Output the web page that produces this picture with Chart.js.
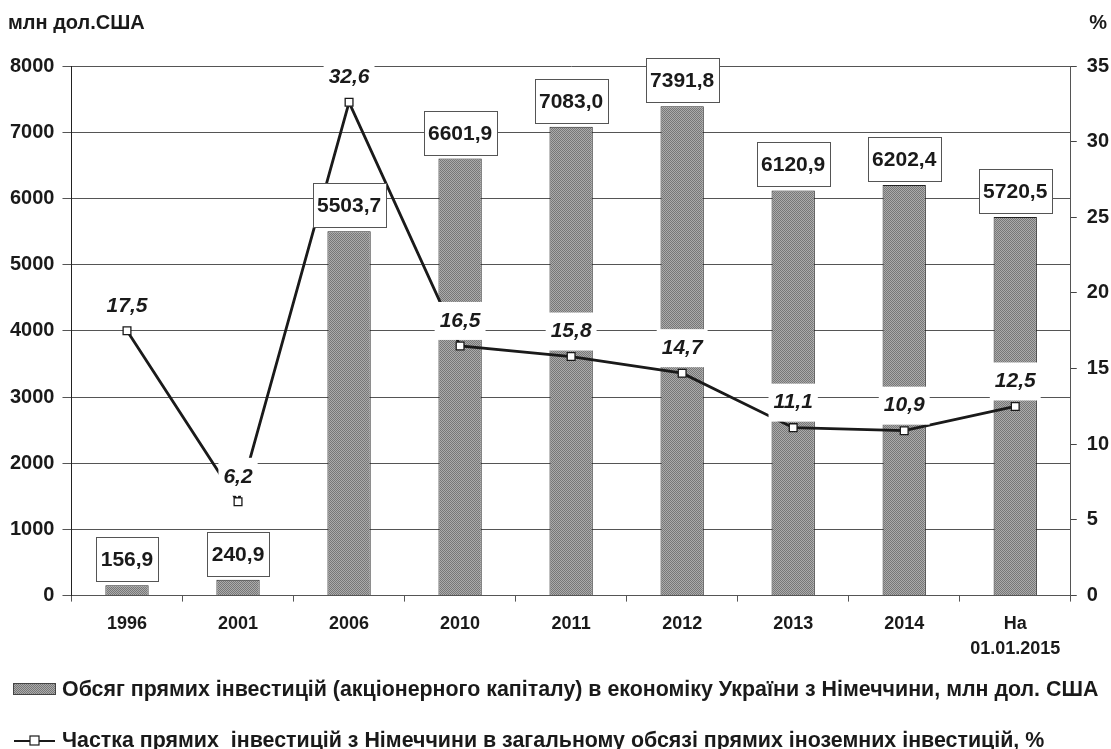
<!DOCTYPE html>
<html>
<head>
<meta charset="utf-8">
<script src="https://cdn.jsdelivr.net/npm/chart.js@4/dist/chart.umd.min.js"></script>
<style>
html, body { margin: 0; padding: 0; background: #fff; }
#wrap { width: 1111px; height: 749px; }
</style>
</head>
<body>
<div id="wrap"><canvas id="chart"></canvas></div>
<script>
var years = ['1996', '2001', '2006', '2010', '2011', '2012', '2013', '2014', ['На', '01.01.2015']];
var investVolume = [156.9, 240.9, 5503.7, 6601.9, 7083.0, 7391.8, 6120.9, 6202.4, 5720.5];
var investShare = [17.5, 6.2, 32.6, 16.5, 15.8, 14.7, 11.1, 10.9, 12.5];
var leftTicks = [0, 1000, 2000, 3000, 4000, 5000, 6000, 7000, 8000];
var rightTicks = [0, 5, 10, 15, 20, 25, 30, 35];
var leftTitle = 'млн дол.США';
var rightTitle = '%';
var barLabel = 'Обсяг прямих інвестицій (акціонерного капіталу) в економіку України з Німеччини, млн дол. США';
var lineLabel = 'Частка прямих  інвестицій з Німеччини в загальному обсязі прямих іноземних інвестицій, %';

var FONT = '"Liberation Sans", Arial, sans-serif';
var canvas = document.getElementById('chart');

// stippled grey fill like the original bars
function makePattern() {
    var c = document.createElement('canvas');
    c.width = 2; c.height = 2;
    var x = c.getContext('2d');
    x.fillStyle = '#ababab';
    x.fillRect(0, 0, 2, 2);
    x.fillStyle = '#777';
    x.fillRect(0, 0, 1, 1);
    x.fillRect(1, 1, 1, 1);
    return canvas.getContext('2d').createPattern(c, 'repeat');
}
var barFill = makePattern();

function fmt(v) {
    return v.toFixed(1).replace('.', ',');
}

var valueLabels = {
    id: 'valueLabels',
    afterDatasetsDraw: function(chart) {
        var ctx = chart.ctx;
        ctx.save();
        ctx.textAlign = 'center';
        ctx.textBaseline = 'middle';

        // line labels, white background
        ctx.font = 'italic bold 21px ' + FONT;
        chart.getDatasetMeta(1).data.forEach(function(pt, i) {
            var txt = fmt(investShare[i]);
            var w = ctx.measureText(txt).width + 10;
            var cy = pt.y - 26;
            ctx.fillStyle = '#fff';
            ctx.fillRect(pt.x - w / 2, cy - 18, w, 38);
            ctx.fillStyle = '#1a1a1a';
            ctx.fillText(txt, pt.x, cy + 1);
        });

        // bar labels, boxed
        ctx.font = 'bold 21px ' + FONT;
        chart.getDatasetMeta(0).data.forEach(function(bar, i) {
            var txt = fmt(investVolume[i]);
            var w = Math.round(ctx.measureText(txt).width + 9);
            var h = 44;
            var top = Math.round(bar.y - 4 - h);
            var left = Math.round(bar.x - w / 2);
            ctx.fillStyle = '#fff';
            ctx.fillRect(left, top, w, h);
            ctx.strokeStyle = '#555';
            ctx.lineWidth = 1;
            ctx.strokeRect(left + 0.5, top + 0.5, w, h);
            ctx.fillStyle = '#1a1a1a';
            ctx.fillText(txt, bar.x, top + h / 2 + 1);
        });
        ctx.restore();
    }
};

var extras = {
    id: 'extras',
    afterDraw: function(chart) {
        var ctx = chart.ctx;
        ctx.save();
        ctx.fillStyle = '#1a1a1a';
        ctx.font = 'bold 20px ' + FONT;
        ctx.textBaseline = 'middle';
        ctx.textAlign = 'left';
        ctx.fillText(leftTitle, 8, 23);
        ctx.textAlign = 'right';
        ctx.fillText(rightTitle, 1107, 23);

        // legend
        ctx.textAlign = 'left';
        ctx.font = 'bold 21.4px ' + FONT;
        ctx.fillStyle = barFill;
        ctx.fillRect(14, 684, 41, 10);
        ctx.strokeStyle = '#444';
        ctx.lineWidth = 1;
        ctx.strokeRect(13.5, 683.5, 42, 11);
        ctx.fillStyle = '#1a1a1a';
        ctx.fillText(chart.data.datasets[0].label, 62, 690);

        ctx.strokeStyle = '#1a1a1a';
        ctx.lineWidth = 2;
        ctx.beginPath();
        ctx.moveTo(14, 741);
        ctx.lineTo(55, 741);
        ctx.stroke();
        ctx.fillStyle = '#fff';
        ctx.fillRect(30, 736, 9, 9);
        ctx.lineWidth = 1.2;
        ctx.strokeRect(30, 736, 9, 9);
        ctx.fillStyle = '#1a1a1a';
        ctx.fillText(chart.data.datasets[1].label, 62, 741);
        ctx.restore();
    }
};

new Chart(canvas, {
    type: 'bar',
    data: {
        labels: years,
        datasets: [{
            label: barLabel,
            data: investVolume,
            yAxisID: 'y',
            backgroundColor: barFill,
            borderColor: '#222',
            borderWidth: 1,
            barPercentage: 0.39,
            categoryPercentage: 1,
            order: 1
        }, {
            type: 'line',
            label: lineLabel,
            data: investShare,
            yAxisID: 'y1',
            borderColor: '#1a1a1a',
            borderWidth: 2.8,
            tension: 0,
            pointStyle: 'rect',
            pointRadius: 5.5,
            pointBackgroundColor: '#fff',
            pointBorderColor: '#1a1a1a',
            pointBorderWidth: 1.3,
            order: 0
        }]
    },
    options: {
        responsive: true,
        maintainAspectRatio: false,
        animation: false,
        layout: {
            padding: { top: 66, left: 2, right: -8, bottom: 77 }
        },
        scales: {
            x: {
                offset: true,
                grid: {
                    offset: true,
                    drawOnChartArea: false,
                    drawTicks: true,
                    tickLength: 6,
                    color: '#555'
                },
                border: { color: '#555', width: 1 },
                ticks: {
                    color: '#1a1a1a',
                    padding: 10,
                    maxRotation: 0,
                    font: { family: FONT, size: 18, weight: 'bold', lineHeight: 1.4 }
                }
            },
            y: {
                position: 'left',
                min: 0,
                max: 8000,
                afterBuildTicks: function(axis) {
                    axis.ticks = leftTicks.map(function(v) { return { value: v }; });
                },
                grid: {
                    color: '#555',
                    tickLength: 9
                },
                border: { color: '#222', width: 1 },
                ticks: {
                    color: '#1a1a1a',
                    padding: 8,
                    callback: function(v) { return String(v); },
                    font: { family: FONT, size: 20, weight: 'bold' }
                }
            },
            y1: {
                position: 'right',
                min: 0,
                max: 35,
                afterBuildTicks: function(axis) {
                    axis.ticks = rightTicks.map(function(v) { return { value: v }; });
                },
                grid: {
                    drawOnChartArea: false,
                    color: '#444',
                    tickLength: 6
                },
                border: { color: '#555', width: 1 },
                ticks: {
                    color: '#1a1a1a',
                    padding: 10,
                    callback: function(v) { return String(v); },
                    font: { family: FONT, size: 20, weight: 'bold' }
                }
            }
        },
        plugins: {
            legend: { display: false },
            tooltip: { enabled: false }
        }
    },
    plugins: [valueLabels, extras]
});
</script>
</body>
</html>
